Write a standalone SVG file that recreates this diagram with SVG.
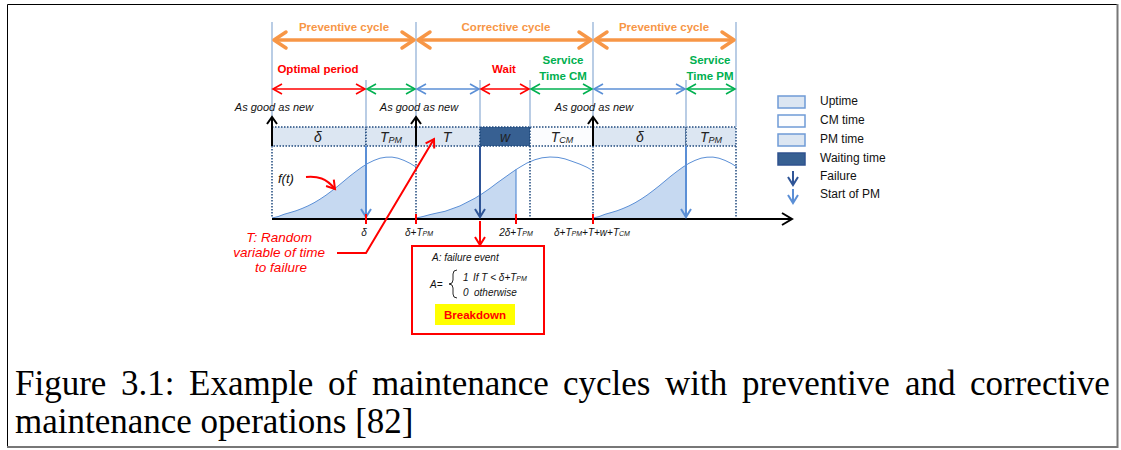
<svg xmlns="http://www.w3.org/2000/svg" width="1121" height="450" viewBox="0 0 1121 450">
<style>
.s{font-family:"Liberation Sans",Arial,sans-serif}
.ttl{font-family:"Liberation Sans",Arial,sans-serif;font-weight:bold;font-size:11.5px;text-anchor:middle}
.or{fill:#f79646}
.rd{fill:#ff0000}
.gr{fill:#00b050}
.agn{font-family:"Liberation Sans",Arial,sans-serif;font-style:italic;font-size:11px;fill:#111;text-anchor:middle}
.bar{font-family:"Liberation Sans",Arial,sans-serif;font-style:italic;font-size:14px;text-anchor:middle;fill:#222}
.ax{font-family:"Liberation Sans",Arial,sans-serif;font-style:italic;font-size:10px;text-anchor:middle;fill:#111}
.lg{font-family:"Liberation Sans",Arial,sans-serif;font-size:12px;fill:#111}
.bx{font-family:"Liberation Sans",Arial,sans-serif;font-style:italic;font-size:10px;fill:#111}
.cap{font-family:"Liberation Serif","Times New Roman",serif;font-size:35px;fill:#000}
.vl{stroke:#95b3d7;stroke-width:1.3;fill:none}
.dot{stroke:#1f497d;stroke-width:1.5;stroke-dasharray:1.5 1.5;fill:none}
.seg{stroke:#1f497d;stroke-width:1.5;stroke-dasharray:1.5 1.5}
.lt{fill:#dce6f2}
.curve{fill:none;stroke:#5b8fd6;stroke-width:1}
.area{fill:#c6d9f1}
</style>
<defs>
<marker id="aOr" viewBox="-16 -11 22 22" markerWidth="22" markerHeight="22" refX="0" refY="0" orient="auto-start-reverse" markerUnits="userSpaceOnUse"><path d="M-12,-8 L0,0 L-12,8" fill="none" stroke="#f79646" stroke-width="3.5" stroke-linejoin="round" stroke-linecap="round"/></marker>
<marker id="aRd" viewBox="-12 -8 16 16" markerWidth="16" markerHeight="16" refX="0" refY="0" orient="auto-start-reverse" markerUnits="userSpaceOnUse"><path d="M-9,-5 L0,0 L-9,5" fill="none" stroke="#ff0000" stroke-width="1.6"/></marker>
<marker id="aGr" viewBox="-12 -8 16 16" markerWidth="16" markerHeight="16" refX="0" refY="0" orient="auto-start-reverse" markerUnits="userSpaceOnUse"><path d="M-9,-5 L0,0 L-9,5" fill="none" stroke="#00b050" stroke-width="1.6"/></marker>
<marker id="aBl" viewBox="-12 -8 16 16" markerWidth="16" markerHeight="16" refX="0" refY="0" orient="auto-start-reverse" markerUnits="userSpaceOnUse"><path d="M-9,-5 L0,0 L-9,5" fill="none" stroke="#5b8fd6" stroke-width="1.6"/></marker>
<marker id="aRd2" viewBox="-12 -8 16 16" markerWidth="16" markerHeight="16" refX="0" refY="0" orient="auto" markerUnits="userSpaceOnUse"><path d="M-8,-5 L0,0 L-8,5" fill="none" stroke="#ff0000" stroke-width="2"/></marker>
<marker id="aBk" viewBox="-12 -8 16 16" markerWidth="16" markerHeight="16" refX="0" refY="0" orient="auto" markerUnits="userSpaceOnUse"><path d="M-7,-5 L0,0 L-7,5" fill="none" stroke="#000" stroke-width="2"/></marker>
<marker id="aAx" viewBox="-14 -9 18 18" markerWidth="18" markerHeight="18" refX="0" refY="0" orient="auto" markerUnits="userSpaceOnUse"><path d="M-10,-6 L0,0 L-10,6" fill="none" stroke="#000" stroke-width="2"/></marker>
<marker id="aDk" viewBox="-12 -8 16 16" markerWidth="16" markerHeight="16" refX="0" refY="0" orient="auto" markerUnits="userSpaceOnUse"><path d="M-8,-5 L0,0 L-8,5" fill="none" stroke="#2f5597" stroke-width="2"/></marker>
<marker id="aLb" viewBox="-12 -8 16 16" markerWidth="16" markerHeight="16" refX="0" refY="0" orient="auto" markerUnits="userSpaceOnUse"><path d="M-8,-5 L0,0 L-8,5" fill="none" stroke="#5b8fd6" stroke-width="2"/></marker>
<g id="bell">
<path class="area" d="M272,218 L278,216.6 L284,214.3 L290,212.6 L296,210.8 L302,208.5 L308,205.9 L314,202.8 L320,199.2 L326,195.2 L332,190.7 L338,186 L344,181 L350,176 L356,171.4 L362,167 L366,164.5 L366,218 Z"/>
<path class="curve" d="M272,218 L278,216.6 L284,214.3 L290,212.6 L296,210.8 L302,208.5 L308,205.9 L314,202.8 L320,199.2 L326,195.2 L332,190.7 L338,186 L344,181 L350,176 L356,171.4 L362,167 L368,163.3 L374,160.4 L380,158.2 L386,157.2 L392,157.1 L398,158.2 L404,160.4 L410,163.3 L416,167"/>
</g>
</defs>

<rect x="7.5" y="4.5" width="1110" height="442.5" fill="#fff" stroke="none"/>
<path d="M7.5,447 L7.5,4.5 L1117,4.5" fill="none" stroke="#000" stroke-width="1"/>
<path d="M1117.5,4 L1117.5,447 L7,447" fill="none" stroke="#777" stroke-width="2"/>

<g id="curves">
<use href="#bell"/>
<use href="#bell" x="321"/>
<path class="area" d="M416,218 L423,216.5 L430,214.6 L437,213 L445,211.3 L452,208.8 L460,205.9 L467,202.3 L475,198.2 L482,193.8 L490,188.3 L497,183 L505,177.3 L511,173 L516,169.6 L516,218 Z"/>
<path class="curve" d="M416,218 L423,216.5 L430,214.6 L437,213 L445,211.3 L452,208.8 L460,205.9 L467,202.3 L475,198.2 L482,193.8 L490,188.3 L497,183 L505,177.3 L511,173 L516,169.6 L520,167.1 L527,163 L535,159.7 L542,157.8 L550,157 L558,157.4 L565,158.9 L572,161.3 L580,164.2 L587,167.3 L593,170.8"/>
</g>

<g id="bar">
<rect class="lt seg" x="272" y="127" width="94" height="19"/>
<rect class="lt seg" x="366" y="127" width="50" height="19"/>
<rect class="lt seg" x="416" y="127" width="64" height="19"/>
<rect class="seg" fill="#376092" x="480" y="127" width="50" height="19"/>
<rect class="seg" fill="#fbfcfe" x="530" y="127" width="63" height="19"/>
<rect class="lt seg" x="593" y="127" width="93" height="19"/>
<rect class="lt seg" x="686" y="127" width="50" height="19"/>
<text class="bar" x="318" y="142">δ</text>
<text class="bar" x="391" y="142">T<tspan font-size="9" dy="1">PM</tspan></text>
<text class="bar" x="447" y="142">T</text>
<text class="bar" x="505" y="142">w</text>
<text class="bar" x="562" y="142">T<tspan font-size="9" dy="1">CM</tspan></text>
<text class="bar" x="640" y="142">δ</text>
<text class="bar" x="711" y="142">T<tspan font-size="9" dy="1">PM</tspan></text>
</g>

<g id="connectors">
<path class="vl" d="M272,22 V127 M416,22 V127 M593,22 V127 M736,22 V127 M366,80 V127 M480,80 V127 M530,80 V127 M686,80 V127"/>
<path class="dot" d="M272,146 V218 M416,146 V218 M530,146 V218 M593,146 V218 M736,146 V218"/>
<line x1="274" y1="40" x2="414" y2="40" stroke="#f79646" stroke-width="3.5" marker-start="url(#aOr)" marker-end="url(#aOr)"/>
<line x1="418" y1="40" x2="591" y2="40" stroke="#f79646" stroke-width="3.5" marker-start="url(#aOr)" marker-end="url(#aOr)"/>
<line x1="595" y1="40" x2="734" y2="40" stroke="#f79646" stroke-width="3.5" marker-start="url(#aOr)" marker-end="url(#aOr)"/>
<line x1="273" y1="89" x2="365" y2="89" stroke="#ff0000" stroke-width="1.6" marker-start="url(#aRd)" marker-end="url(#aRd)"/>
<line x1="367" y1="89" x2="415" y2="89" stroke="#00b050" stroke-width="1.6" marker-start="url(#aGr)" marker-end="url(#aGr)"/>
<line x1="417" y1="89" x2="479" y2="89" stroke="#5b8fd6" stroke-width="1.6" marker-start="url(#aBl)" marker-end="url(#aBl)"/>
<line x1="481" y1="89" x2="529" y2="89" stroke="#ff0000" stroke-width="1.6" marker-start="url(#aRd)" marker-end="url(#aRd)"/>
<line x1="531" y1="89" x2="592" y2="89" stroke="#00b050" stroke-width="1.6" marker-start="url(#aGr)" marker-end="url(#aGr)"/>
<line x1="594" y1="89" x2="685" y2="89" stroke="#5b8fd6" stroke-width="1.6" marker-start="url(#aBl)" marker-end="url(#aBl)"/>
<line x1="687" y1="89" x2="735" y2="89" stroke="#00b050" stroke-width="1.6" marker-start="url(#aGr)" marker-end="url(#aGr)"/>
<line x1="272" y1="146" x2="272" y2="117" stroke="#000" stroke-width="2" marker-end="url(#aBk)"/>
<line x1="416" y1="146" x2="416" y2="117" stroke="#000" stroke-width="2" marker-end="url(#aBk)"/>
<line x1="593" y1="146" x2="593" y2="117" stroke="#000" stroke-width="2" marker-end="url(#aBk)"/>
<line x1="272" y1="219" x2="792" y2="219" stroke="#000" stroke-width="2" marker-end="url(#aAx)"/>
<line x1="366" y1="146" x2="366" y2="217" stroke="#5b8fd6" stroke-width="2" marker-end="url(#aLb)"/>
<line x1="686" y1="146" x2="686" y2="217" stroke="#5b8fd6" stroke-width="2" marker-end="url(#aLb)"/>
<line x1="480" y1="146" x2="480" y2="217" stroke="#2f5597" stroke-width="2" marker-end="url(#aDk)"/>
<line x1="516" y1="169.6" x2="516" y2="218" stroke="#5b8fd6" stroke-width="1.2"/>
<path d="M366,214 V224 M416,214 V224 M516,214 V224 M593,214 V224" stroke="#ff0000" stroke-width="2"/>
<line x1="480" y1="221" x2="480" y2="245" stroke="#ff0000" stroke-width="2" marker-end="url(#aRd2)"/>
<path d="M306,177 C318,176 326,178 335,189" fill="none" stroke="#ff0000" stroke-width="2" marker-end="url(#aRd2)"/>
<path d="M337,253 L366,253 L434,139" fill="none" stroke="#ff0000" stroke-width="2" marker-end="url(#aRd2)"/>
</g>

<g id="cycle-labels">
<text class="ttl or" x="344" y="31">Preventive cycle</text>
<text class="ttl or" x="506" y="31">Corrective cycle</text>
<text class="ttl or" x="664" y="31">Preventive cycle</text>
</g>

<g id="period-labels">
<text class="ttl rd" x="318" y="73">Optimal period</text>
<text class="ttl rd" x="504" y="73">Wait</text>
<text class="ttl gr" x="563" y="64">Service</text>
<text class="ttl gr" x="563" y="80">Time CM</text>
<text class="ttl gr" x="710" y="64">Service</text>
<text class="ttl gr" x="710" y="80">Time PM</text>
</g>

<g id="as-good-as-new">
<text class="agn" x="274" y="111">As good as new</text>
<text class="agn" x="419" y="111">As good as new</text>
<text class="agn" x="594" y="111">As good as new</text>
</g>

<g id="axis-labels">
<text class="ax" x="364" y="236">δ</text>
<text class="ax" x="419" y="236">δ+T<tspan font-size="7">PM</tspan></text>
<text class="ax" x="516" y="236">2δ+T<tspan font-size="7">PM</tspan></text>
<text class="ax" x="592" y="236">δ+T<tspan font-size="7">PM</tspan>+T+w+T<tspan font-size="7">CM</tspan></text>
</g>

<g id="ft-label">
<text class="s" x="278" y="183" font-style="italic" font-size="13" fill="#111">f(t)</text>
</g>

<g id="T-label">
<text class="s rd" font-style="italic" font-size="13.5" text-anchor="middle">
<tspan x="281" y="242">T: Random</tspan>
<tspan x="281" y="257">variable of time</tspan>
<tspan x="281" y="272">to failure</tspan>
</text>
</g>

<g id="failure-box">
<rect x="412" y="246" width="132" height="88" fill="#fff" stroke="#ff0000" stroke-width="2"/>
<text class="bx" x="432" y="261">A: failure event</text>
<text class="bx" x="430" y="288">A=</text>
<path d="M457,270 Q453,270 453,274 L453,280 Q453,284 449,284 Q453,284 453,288 L453,294 Q453,298 457,298" fill="none" stroke="#111" stroke-width="0.9"/>
<text class="bx" y="281"><tspan x="463">1</tspan><tspan x="473">If T &lt; δ+T<tspan font-size="7">PM</tspan></tspan></text>
<text class="bx" y="296"><tspan x="463">0</tspan><tspan x="474">otherwise</tspan></text>
<rect x="435" y="304" width="80" height="21" fill="#ffff00"/>
<text class="s" x="475" y="319" font-weight="bold" font-size="11.5" fill="#ff0000" text-anchor="middle">Breakdown</text>
</g>

<g id="legend">
<rect x="778" y="96" width="27" height="12" fill="#dce6f2" stroke="#6f9bd6" stroke-width="1.5"/>
<rect x="778" y="115" width="27" height="12" fill="#fbfcfe" stroke="#6f9bd6" stroke-width="1.5"/>
<rect x="778" y="134" width="27" height="12" fill="#dce6f2" stroke="#6f9bd6" stroke-width="1.5"/>
<rect x="778" y="153" width="27" height="12" fill="#376092" stroke="#2f528f" stroke-width="1.5"/>
<line x1="793" y1="171" x2="793" y2="185" stroke="#2f5597" stroke-width="2" marker-end="url(#aDk)"/>
<line x1="793" y1="189" x2="793" y2="203" stroke="#5b8fd6" stroke-width="2" marker-end="url(#aLb)"/>
<text class="lg" x="820" y="105">Uptime</text>
<text class="lg" x="820" y="124">CM time</text>
<text class="lg" x="820" y="143">PM time</text>
<text class="lg" x="820" y="162">Waiting time</text>
<text class="lg" x="820" y="180">Failure</text>
<text class="lg" x="820" y="198">Start of PM</text>
</g>

<g id="caption">
<text class="cap" y="395"><tspan x="15">Figure</tspan><tspan x="121">3.1:</tspan><tspan x="189">Example</tspan><tspan x="328">of</tspan><tspan x="372">maintenance</tspan><tspan x="563">cycles</tspan><tspan x="665">with</tspan><tspan x="742">preventive</tspan><tspan x="905">and</tspan><tspan x="970">corrective</tspan></text>
<text class="cap" x="15" y="433">maintenance operations [82]</text>
</g>
</svg>
